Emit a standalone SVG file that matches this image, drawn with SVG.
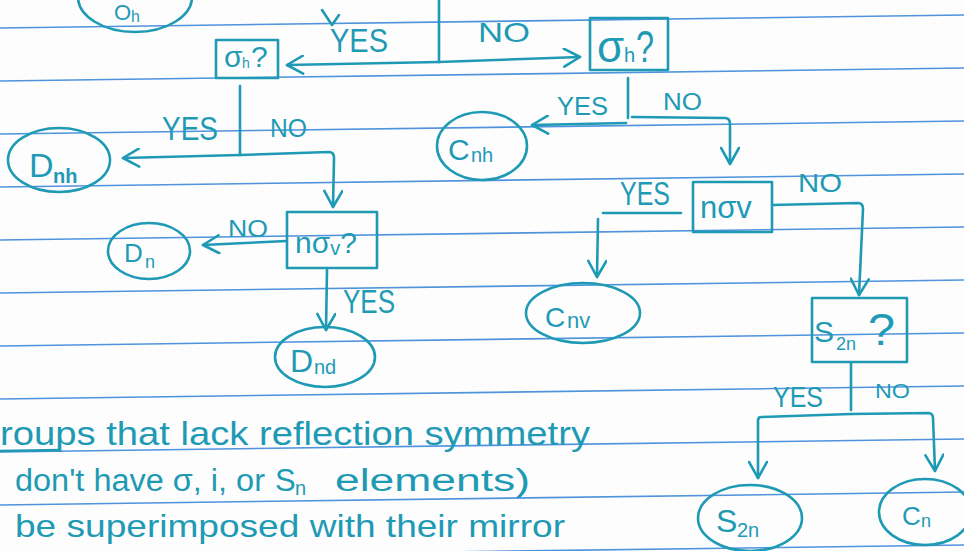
<svg xmlns="http://www.w3.org/2000/svg" width="964" height="551" viewBox="0 0 964 551">
<style>
.ink{fill:none;stroke:#1f9ab5;stroke-width:2.6;stroke-linecap:round;stroke-linejoin:round}
.rule{stroke:#4f93dc;stroke-width:1.6}
text{font-family:"Liberation Sans","DejaVu Sans",sans-serif;fill:#1f9ab5}
</style>
<defs>
<marker id="arr" viewBox="0 0 20 20" refX="18" refY="10" markerWidth="20" markerHeight="20" markerUnits="userSpaceOnUse" orient="auto">
<path d="M2,1 L18,10 L2,19" fill="none" stroke="#1f9ab5" stroke-width="2.6" stroke-linecap="round" stroke-linejoin="round"/>
</marker>
</defs>
<rect width="964" height="551" fill="#fdfdfd"/>
<g id="ruled">
<line class="rule" x1="0" y1="28" x2="964" y2="15"/>
<line class="rule" x1="0" y1="81" x2="964" y2="68"/>
<line class="rule" x1="0" y1="134" x2="964" y2="121"/>
<line class="rule" x1="0" y1="187" x2="964" y2="174"/>
<line class="rule" x1="0" y1="240" x2="964" y2="227"/>
<line class="rule" x1="0" y1="293" x2="964" y2="280"/>
<line class="rule" x1="0" y1="346" x2="964" y2="333"/>
<line class="rule" x1="0" y1="399" x2="964" y2="386"/>
<line class="rule" x1="0" y1="452" x2="964" y2="439"/>
<line class="rule" x1="0" y1="505" x2="964" y2="492"/>
<line class="rule" x1="0" y1="558" x2="964" y2="545"/>
</g>

<g id="connectors">
<path class="ink" d="M439,0 L439,62"/>
<path class="ink" d="M322,10 L332,25 L339,15"/>
<path class="ink" marker-end="url(#arr)" d="M439,62 L287,65"/>
<path class="ink" marker-end="url(#arr)" d="M439,62 L580,57"/>
<path class="ink" d="M240,86 L240,155"/>
<path class="ink" marker-end="url(#arr)" d="M240,155 L123,158"/>
<path class="ink" marker-end="url(#arr)" d="M240,155 L329,152 Q334,152 334,158 L333,207"/>
<path class="ink" marker-end="url(#arr)" d="M287,241 L203,245"/>
<path class="ink" marker-end="url(#arr)" d="M327,270 L326,330"/>
<path class="ink" d="M628,78 L628,118"/>
<path class="ink" marker-end="url(#arr)" d="M626,123 L532,125"/>
<path class="ink" marker-end="url(#arr)" d="M632,117 L725,118 Q730,118 730,124 L730,164"/>
<path class="ink" d="M681,213 L603,213"/>
<path class="ink" marker-end="url(#arr)" d="M598,219 L597,277"/>
<path class="ink" marker-end="url(#arr)" d="M772,205 L858,203 Q863,203 863,209 L859,295"/>
<path class="ink" d="M851,363 L851,410"/>
<path class="ink" marker-end="url(#arr)" d="M851,414 L761,417 Q758,417 758,421 L758,478"/>
<path class="ink" marker-end="url(#arr)" d="M851,414 L929,413 Q933,414 933,418 L935,471"/>
</g>

<g id="labels">
<text x="330" y="52" font-size="34" textLength="58" lengthAdjust="spacingAndGlyphs">YES</text>
<text x="478" y="42" font-size="28" textLength="52" lengthAdjust="spacingAndGlyphs">NO</text>
<text x="162" y="140" font-size="34" textLength="56" lengthAdjust="spacingAndGlyphs">YES</text>
<text x="270" y="137" font-size="26" textLength="37" lengthAdjust="spacingAndGlyphs">NO</text>
<text x="228" y="237" font-size="24" textLength="40" lengthAdjust="spacingAndGlyphs">NO</text>
<text x="343" y="313" font-size="34" textLength="52" lengthAdjust="spacingAndGlyphs">YES</text>
<text x="557" y="115" font-size="25" textLength="51" lengthAdjust="spacingAndGlyphs">YES</text>
<text x="663" y="110" font-size="24" textLength="39" lengthAdjust="spacingAndGlyphs">NO</text>
<text x="620" y="205" font-size="33" textLength="50" lengthAdjust="spacingAndGlyphs">YES</text>
<text x="798" y="192" font-size="26" textLength="44" lengthAdjust="spacingAndGlyphs">NO</text>
<text x="773" y="407" font-size="30" textLength="50" lengthAdjust="spacingAndGlyphs">YES</text>
<text x="875" y="398" font-size="20" textLength="35" lengthAdjust="spacingAndGlyphs">NO</text>
</g>

<g id="n-Oh">
<ellipse class="ink" cx="135" cy="-3" rx="57" ry="35"/>
<text x="114" y="20" font-size="22">O</text>
<text x="131" y="22" font-size="16">h</text>
</g>

<g id="q-sigmah-left">
<rect class="ink" x="216" y="40" width="62" height="38"/>
<text x="224" y="67" font-size="30">σ</text>
<text x="242" y="68" font-size="14">h</text>
<text x="251" y="67" font-size="30">?</text>
</g>

<g id="q-sigmah-right">
<rect class="ink" x="590" y="18" width="78" height="52"/>
<text x="597" y="62" font-size="44">σ</text>
<text x="624" y="62" font-size="20">h</text>
<text x="636" y="62" font-size="44" textLength="18" lengthAdjust="spacingAndGlyphs">?</text>
</g>

<g id="n-Dnh">
<ellipse class="ink" cx="59" cy="160" rx="51" ry="32"/>
<text x="29" y="177" font-size="34">D</text>
<text x="53" y="183" font-size="20" font-weight="bold">nh</text>
</g>

<g id="n-Cnh">
<ellipse class="ink" cx="482" cy="146" rx="45" ry="34"/>
<text x="448" y="160" font-size="30">C</text>
<text x="471" y="162" font-size="20">nh</text>
</g>

<g id="q-nsigmav-left">
<rect class="ink" x="287" y="212" width="90" height="56"/>
<text x="295" y="253" font-size="30">nσ<tspan font-size="20" dy="2">v</tspan><tspan dy="-2">?</tspan></text>
</g>

<g id="n-Dn">
<ellipse class="ink" cx="149" cy="251" rx="41" ry="28"/>
<text x="124" y="262" font-size="26">D</text>
<text x="145" y="268" font-size="18">n</text>
</g>

<g id="n-Dnd">
<ellipse class="ink" cx="325" cy="357" rx="50" ry="30"/>
<text x="290" y="372" font-size="32">D</text>
<text x="314" y="374" font-size="20">nd</text>
</g>

<g id="q-nsigmav-right">
<rect class="ink" x="693" y="182" width="79" height="50"/>
<text x="700" y="218" font-size="31">nσv</text>
</g>

<g id="n-Cnv">
<ellipse class="ink" cx="583" cy="313" rx="57" ry="30"/>
<text x="545" y="327" font-size="28">C</text>
<text x="567" y="328" font-size="22">nv</text>
</g>

<g id="q-S2n">
<rect class="ink" x="812" y="298" width="95" height="64"/>
<text x="814" y="342" font-size="30">S</text>
<text x="836" y="350" font-size="18">2n</text>
<text x="868" y="345" font-size="44" textLength="27" lengthAdjust="spacingAndGlyphs">?</text>
</g>

<g id="n-S2n">
<ellipse class="ink" cx="750" cy="518" rx="52" ry="33"/>
<text x="716" y="532" font-size="32">S</text>
<text x="737" y="537" font-size="20">2n</text>
</g>

<g id="n-Cn">
<ellipse class="ink" cx="925" cy="512" rx="46" ry="33"/>
<text x="902" y="525" font-size="26">C</text>
<text x="921" y="527" font-size="18">n</text>
</g>

<g id="notes">
<text x="0" y="445" font-size="33" textLength="590" lengthAdjust="spacingAndGlyphs">roups that lack reflection symmetry</text>
<line class="ink" x1="0" y1="451" x2="60" y2="450"/>
<text x="15" y="491" font-size="31" textLength="250" lengthAdjust="spacingAndGlyphs">don't have σ, i, or</text>
<text x="275" y="491" font-size="31">S</text>
<text x="295" y="495" font-size="20">n</text>
<text x="335" y="491" font-size="31" textLength="195" lengthAdjust="spacingAndGlyphs">elements)</text>
<text x="15" y="537" font-size="32" textLength="550" lengthAdjust="spacingAndGlyphs">be superimposed with their mirror</text>
</g>
</svg>
